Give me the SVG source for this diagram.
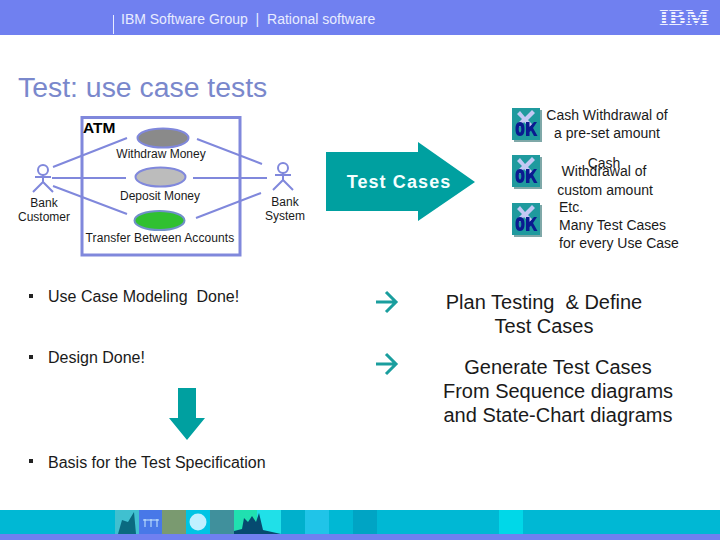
<svg xmlns="http://www.w3.org/2000/svg" width="720" height="540" viewBox="0 0 720 540">
<style>
text{font-family:"Liberation Sans",Arial,sans-serif;fill:#1a1a1a;white-space:pre}
.s{font-size:12px}
.m{font-size:14px}
.b{font-size:16px}
.l{font-size:20px}
.c{text-anchor:middle}
.u{stroke:#8088dc;stroke-width:2;fill:none}
</style>
<defs>
<g id="okicon">
<rect x="2" y="2" width="28" height="32" fill="#7fa8a8"/>
<rect x="0" y="0" width="28" height="32" fill="#1f9a9e"/>
<path d="M8 3L13 9L20 2L23 5L16 12L21 17L17 19L12 14L8 19L5 16L10 11L5 6Z" fill="#c4c8f4"/>
<path d="M8 14c3.500 0 4.500 3 4.500 7s-1 7-4.500 7s-4.500-3-4.500-7s1-7 4.500-7zM8 18c-1 0-1.300 1.500-1.300 3s.3 3.500 1.300 3.500s1.300-2 1.300-3.500s-.3-3-1.300-3zM14 14h3.500v5l4.500-5h3l-4 6l4.500 8h-3.500l-3-5.500l-1.500 1.500v4h-3.500z" fill="#0a1a90" fill-rule="evenodd"/>
</g>
<g id="actor" class="u">
<circle cx="0" cy="-7" r="5"/>
<path d="M0-2V5M-8 0H8M-10 15L0 5L10 15"/>
</g>
</defs>
<g id="header">
<rect width="720" height="35" fill="#7080f0"/>
<path d="M113.500 15V34" stroke="#e8ecff" stroke-width="1"/>
<text x="121" y="24" style="fill:#e8ecff;font-size:14px">IBM Software Group  |  Rational software</text>
<text x="659" y="25" textLength="50" lengthAdjust="spacingAndGlyphs" style="fill:#eef0ff;font-size:24px;font-weight:bold;font-family:'Liberation Serif',serif">IBM</text>
<path d="M656 11.500H712M656 14.500H712M656 17.500H712M656 20.500H712M656 23.500H712" stroke="#7080f0" stroke-width="1"/>
</g>
<text id="title" x="18" y="97" style="font-size:28.400px;fill:#7a88cc">Test: use case tests</text>

<g id="atm"><rect x="82" y="117.500" width="158" height="137.500" fill="none" stroke="#8088dc" stroke-width="3"/>
<text x="83" y="133" style="font-size:15.500px;font-weight:bold;fill:#000">ATM</text></g>

<g id="connectors" class="u">
<path d="M53 167L127 138M52 178H126M53 186L127 214M197 139L262 164M193 178H267M196 218L261 193"/>
</g>

<g id="uc1"><ellipse cx="163" cy="138" rx="25.500" ry="9.500" fill="#8a8a8a" stroke="#8088dc" stroke-width="2"/><text x="161" y="158" class="s c">Withdraw Money</text></g>
<g id="uc2"><ellipse cx="160.500" cy="177" rx="25" ry="9.500" fill="#bcbcbc" stroke="#8088dc" stroke-width="2"/><text x="160" y="200" class="s c">Deposit Money</text></g>
<g id="uc3"><ellipse cx="159.500" cy="220.500" rx="25" ry="9.500" fill="#30c030" stroke="#7090c8" stroke-width="2"/><text x="160" y="242" class="s c" style="letter-spacing:.1px">Transfer Between Accounts</text></g>

<g id="bank-customer"><use href="#actor" x="43" y="177"/><text x="44" y="207" class="s c">Bank</text><text x="44" y="221" class="s c">Customer</text></g>
<g id="bank-system"><use href="#actor" x="283" y="175"/><text x="285" y="206" class="s c">Bank</text><text x="285" y="220" class="s c">System</text></g>

<g id="test-cases"><path d="M326 152H418V142L475 182L418 221V211H326Z" fill="#00a0a0"/>
<text x="399" y="188" class="c" style="font-size:18px;font-weight:bold;letter-spacing:1.100px;fill:#f4ffff">Test Cases</text></g>

<use id="ok1" href="#okicon" x="512" y="108"/>
<use id="ok2" href="#okicon" x="512" y="155"/>
<use id="ok3" href="#okicon" x="512" y="203"/>

<g id="case-text" class="m">
<text x="607" y="120" class="c">Cash Withdrawal of</text>
<text x="607" y="138" class="c">a pre-set amount</text>
<text x="604" y="168" class="c">Cash</text>
<text x="604" y="176" class="c">Withdrawal of</text>
<text x="605" y="195" class="c">custom amount</text>
<text x="559" y="212">Etc.</text>
<text x="559" y="230">Many Test Cases</text>
<text x="559" y="248">for every Use Case</text>
</g>

<g id="bullets">
<rect x="29" y="294" width="4" height="4" fill="#222"/>
<rect x="29" y="355" width="4" height="4" fill="#222"/>
<rect x="29" y="459" width="4" height="4" fill="#222"/>
<text x="48" y="302" class="b">Use Case Modeling  Done!</text>
<text x="48" y="363" class="b">Design Done!</text>
<text x="48" y="468" class="b">Basis for the Test Specification</text>
</g>

<g id="small-arrows" fill="none" stroke="#1a9e9e" stroke-width="3">
<path d="M376 302H396M386 292L396 302L386 312"/>
<path d="M376 364H396M386 354L396 364L386 374"/>
</g>
<path id="down-arrow" d="M178 388H196V418H205L187 440L169 418H178Z" fill="#00a0a0"/>

<g id="right-text" class="l">
<text x="544" y="309" class="c">Plan Testing  &amp; Define</text>
<text x="544" y="333" class="c">Test Cases</text>
<text x="558" y="374" class="c">Generate Test Cases</text>
<text x="558" y="398" class="c">From Sequence diagrams</text>
<text x="558" y="422" class="c">and State-Chart diagrams</text>
</g>

<g id="footer">
<rect y="510" width="720" height="24" fill="#00b8d4"/>
<rect y="534" width="720" height="6" fill="#7080f0"/>
<rect x="115" y="510" width="24" height="24" fill="#40c0d0"/>
<path d="M118 534L122 520L128 522L134 512L136 534Z" fill="#0a6a80"/>
<rect x="139" y="510" width="23" height="24" fill="#4878e8"/>
<path d="M143 520H159M145 519V527M151 519V527M157 519V527" stroke="#c8e8ff" stroke-width="1" fill="none"/>
<rect x="162" y="510" width="24" height="24" fill="#7a9a70"/>
<rect x="186" y="510" width="24" height="24" fill="#00c4e4"/>
<circle cx="198" cy="522" r="8.500" fill="#c0f0ff"/>
<rect x="210" y="510" width="24" height="24" fill="#40909c"/>
<rect x="234" y="510" width="47" height="24" fill="#20e0e8"/>
<rect x="234" y="510" width="23" height="24" fill="#20e0b0"/>
<path d="M234 534V531L242 529L244 518L248 522L252 516L256 522L259 513L263 530L281 534Z" fill="#064a70"/>
<rect x="281" y="510" width="24" height="24" fill="#00b0cc"/>
<rect x="305" y="510" width="24" height="24" fill="#20c4e8"/>
<rect x="353" y="510" width="24" height="24" fill="#00a4c4"/>
<rect x="499" y="510" width="24" height="24" fill="#00d8e8"/>
</g>
</svg>
